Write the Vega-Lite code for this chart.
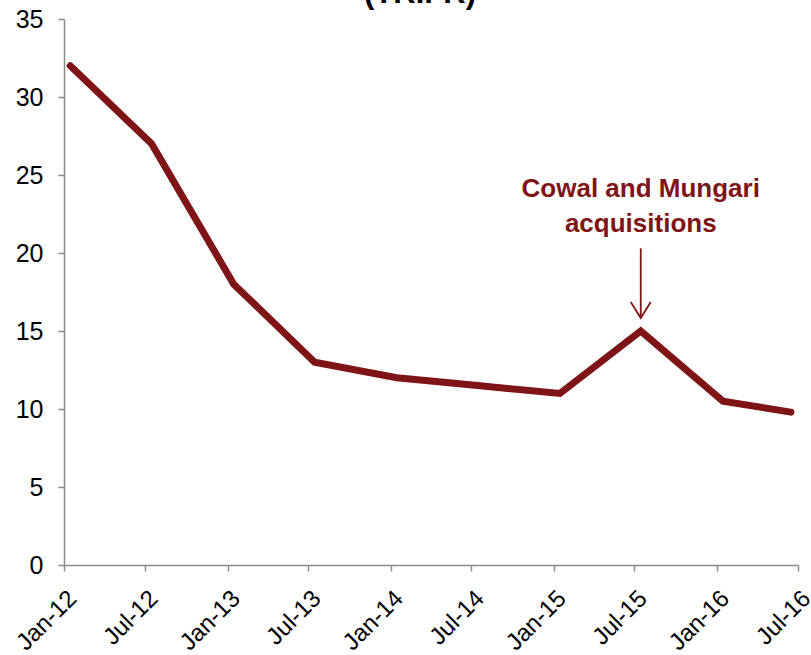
{
  "$schema": "https://vega.github.io/schema/vega-lite/v6.json",
  "width": 734,
  "height": 546,
  "autosize": {"type": "none"},
  "padding": {"left": 64, "top": 19, "right": 13, "bottom": 90},
  "background": "white",
  "title": {"text": "(TRIFR)", "fontSize": 31, "font": "Liberation Sans", "fontWeight": "bold", "color": "#000000", "anchor": "middle", "baseline": "alphabetic", "offset": 0, "dy": 27, "dx": -11},
  "config": {"view": {"stroke": null}, "font": "Liberation Sans"},
  "datasets": {
    "trifr": [
      {"date": "2012-01-15T00:00", "value": 32},
      {"date": "2012-07-15T00:00", "value": 27},
      {"date": "2013-01-15T00:00", "value": 18},
      {"date": "2013-07-15T00:00", "value": 13},
      {"date": "2014-01-15T00:00", "value": 12},
      {"date": "2014-07-15T00:00", "value": 11.5},
      {"date": "2015-01-15T00:00", "value": 11},
      {"date": "2015-07-15T00:00", "value": 15},
      {"date": "2016-01-15T00:00", "value": 10.5},
      {"date": "2016-06-15T00:00", "value": 9.8}
    ],
    "note": [
      {"date": "2015-07-15T00:00", "label": ["Cowal and Mungari", "acquisitions"], "textY": 23.6, "top": 20.3, "tip": 15.83}
    ]
  },
  "layer": [
    {
      "data": {"name": "trifr"},
      "mark": {"type": "line", "color": "#7f1416", "strokeWidth": 7, "strokeCap": "round", "strokeJoin": "miter"},
      "encoding": {
        "x": {
          "field": "date", "type": "temporal",
          "scale": {"domain": [{"year": 2012, "month": 1, "date": 1}, {"year": 2016, "month": 7, "date": 1}], "nice": false},
          "axis": {
            "title": null,
            "values": [
              {"year": 2012, "month": 1, "date": 1}, {"year": 2012, "month": 7, "date": 1},
              {"year": 2013, "month": 1, "date": 1}, {"year": 2013, "month": 7, "date": 1},
              {"year": 2014, "month": 1, "date": 1}, {"year": 2014, "month": 7, "date": 1},
              {"year": 2015, "month": 1, "date": 1}, {"year": 2015, "month": 7, "date": 1},
              {"year": 2016, "month": 1, "date": 1}, {"year": 2016, "month": 7, "date": 1}
            ],
            "format": "%b-%y",
            "labelAngle": -45,
            "labelFontSize": 24,
            "labelColor": "#000000",
            "labelFont": "Liberation Sans",
            "labelPadding": 15,
            "labelOverlap": false,
            "labelBound": false,
            "labelFlush": false,
            "grid": false,
            "domainColor": "#8c8c8c",
            "domainWidth": 1.5,
            "tickColor": "#8c8c8c",
            "tickWidth": 1.5,
            "tickSize": 6
          }
        },
        "y": {
          "field": "value", "type": "quantitative",
          "scale": {"domain": [0, 35], "nice": false},
          "axis": {
            "title": null,
            "values": [0, 5, 10, 15, 20, 25, 30, 35],
            "labelFontSize": 25,
            "labelColor": "#000000",
            "labelFont": "Liberation Sans",
            "labelPadding": 15,
            "grid": false,
            "domainColor": "#8c8c8c",
            "domainWidth": 1.5,
            "tickColor": "#8c8c8c",
            "tickWidth": 1.5,
            "tickSize": 6
          }
        }
      }
    },
    {
      "data": {"name": "note"},
      "mark": {"type": "rule", "color": "#7f1416", "strokeWidth": 1.8},
      "encoding": {
        "x": {"field": "date", "type": "temporal"},
        "y": {"field": "top", "type": "quantitative"},
        "y2": {"field": "tip"}
      }
    },
    {
      "data": {"name": "note"},
      "mark": {"type": "point", "shape": "M-1,-1.6L0,0L1,-1.6", "size": 400, "filled": false, "stroke": "#7f1416", "strokeWidth": 1.8, "opacity": 1},
      "encoding": {
        "x": {"field": "date", "type": "temporal"},
        "y": {"field": "tip", "type": "quantitative"}
      }
    },
    {
      "data": {"name": "note"},
      "mark": {"type": "text", "color": "#7f1416", "fontSize": 26, "fontWeight": "bold", "font": "Liberation Sans", "align": "center", "baseline": "alphabetic", "lineHeight": 35},
      "encoding": {
        "x": {"field": "date", "type": "temporal"},
        "y": {"field": "textY", "type": "quantitative"},
        "text": {"field": "label"}
      }
    }
  ]
}
